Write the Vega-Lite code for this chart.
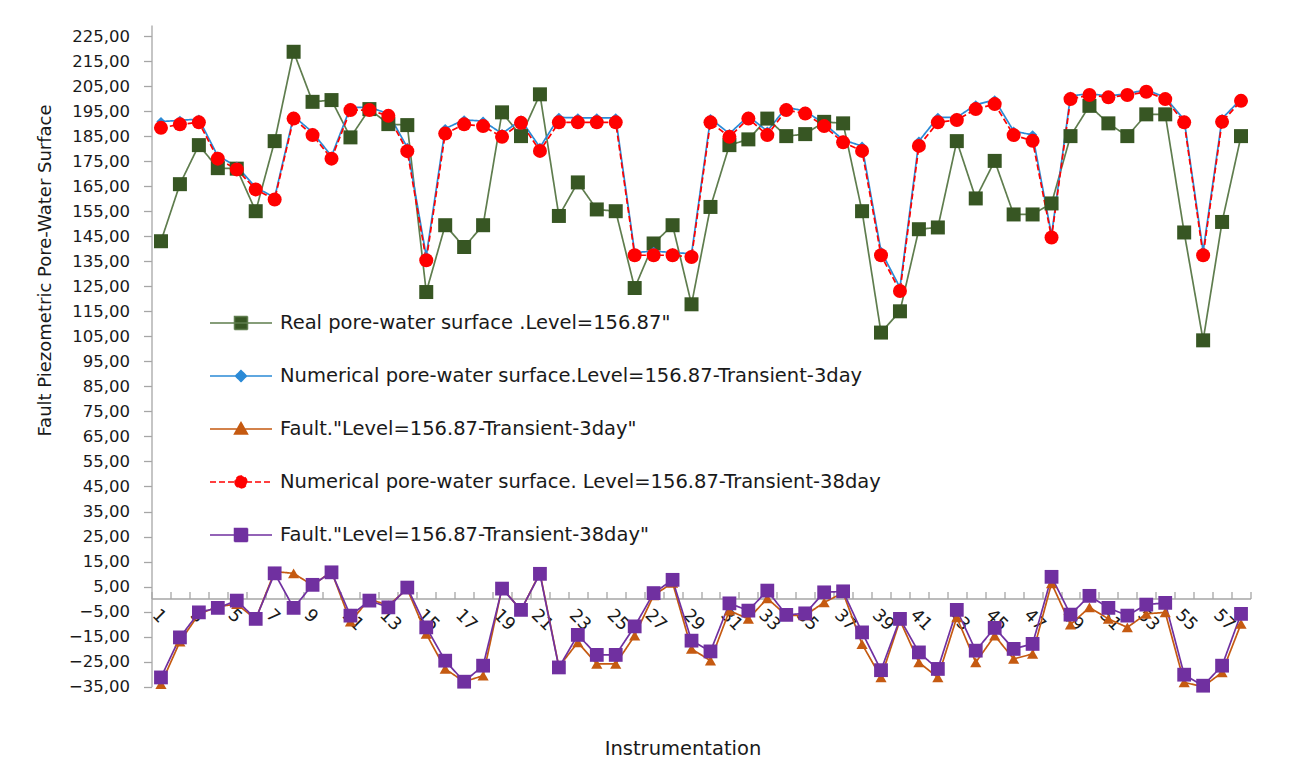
{
  "$schema": "https://vega.github.io/schema/vega-lite/v6.json",
  "width": 1099,
  "height": 661.7,
  "autosize": {"type": "none"},
  "padding": {"left": 151.5, "top": 25, "right": 39.5, "bottom": 85.3},
  "background": "white",
  "config": {"view": {"stroke": null}, "font": "DejaVu Sans", "axis": {"grid": false}},
  "data": {"values": [
    {"i":1,"A":143,"B":190.8,"C":-34,"D":188.3,"E":-31.3},
    {"i":2,"A":165.8,"B":191.3,"C":-17,"D":189.7,"E":-15.3},
    {"i":3,"A":181.4,"B":191.8,"C":-6,"D":190.5,"E":-5.3},
    {"i":4,"A":172.2,"B":177,"C":-3,"D":176,"E":-3.5},
    {"i":5,"A":172,"B":173,"C":-2,"D":171.7,"E":-0.6},
    {"i":6,"A":155,"B":164.5,"C":-8,"D":163.7,"E":-7.9},
    {"i":7,"A":183,"B":160.5,"C":11,"D":159.7,"E":10.3},
    {"i":8,"A":218.7,"B":193,"C":10.3,"D":192,"E":-3.5},
    {"i":9,"A":198.7,"B":186.5,"C":5.5,"D":185.4,"E":5.7},
    {"i":10,"A":199.4,"B":177,"C":11,"D":176,"E":10.7},
    {"i":11,"A":184.5,"B":196.5,"C":-9,"D":195.4,"E":-6.6},
    {"i":12,"A":195.8,"B":196.5,"C":0,"D":195.4,"E":-0.6},
    {"i":13,"A":189.8,"B":194,"C":-2.5,"D":193.1,"E":-3.3},
    {"i":14,"A":189.4,"B":180.5,"C":4,"D":179,"E":4.6},
    {"i":15,"A":122.7,"B":137,"C":-13.9,"D":135.4,"E":-11.3},
    {"i":16,"A":149.4,"B":188,"C":-27.9,"D":186,"E":-24.6},
    {"i":17,"A":140.7,"B":191.5,"C":-33,"D":189.7,"E":-33},
    {"i":18,"A":149.4,"B":191,"C":-30.6,"D":189,"E":-26.6},
    {"i":19,"A":194.5,"B":186,"C":4.5,"D":184.7,"E":4.2},
    {"i":20,"A":185,"B":191.5,"C":-4.5,"D":190.3,"E":-4.3},
    {"i":21,"A":201.7,"B":180.5,"C":10.5,"D":179.1,"E":10.1},
    {"i":22,"A":153.1,"B":192.5,"C":-27,"D":190.5,"E":-27.3},
    {"i":23,"A":166.5,"B":192.3,"C":-17.3,"D":190.5,"E":-14.3},
    {"i":24,"A":155.7,"B":192.3,"C":-25.9,"D":190.5,"E":-22.3},
    {"i":25,"A":155,"B":192.3,"C":-25.9,"D":190.5,"E":-22.3},
    {"i":26,"A":124.3,"B":138.5,"C":-14.6,"D":137.4,"E":-10.9},
    {"i":27,"A":142.1,"B":139,"C":1.5,"D":137.4,"E":2.4},
    {"i":28,"A":149.4,"B":138.5,"C":6.5,"D":137.4,"E":7.7},
    {"i":29,"A":117.8,"B":138,"C":-19.9,"D":136.7,"E":-16.6},
    {"i":30,"A":156.7,"B":192,"C":-24.6,"D":190.5,"E":-20.9},
    {"i":31,"A":181.4,"B":186,"C":-4.6,"D":184.7,"E":-1.7},
    {"i":32,"A":183.7,"B":193,"C":-7.9,"D":192,"E":-4.6},
    {"i":33,"A":192,"B":187,"C":0.3,"D":185.4,"E":3.4},
    {"i":34,"A":185,"B":196.5,"C":-6.5,"D":195.4,"E":-6.3},
    {"i":35,"A":185.8,"B":195,"C":-6.5,"D":194,"E":-5.7},
    {"i":36,"A":190.7,"B":190,"C":-1.3,"D":189,"E":2.7},
    {"i":37,"A":190.1,"B":183.5,"C":2.5,"D":182.5,"E":3.1},
    {"i":38,"A":155,"B":181,"C":-18,"D":179.1,"E":-13.3},
    {"i":39,"A":106.5,"B":139,"C":-31.3,"D":137.4,"E":-28.4},
    {"i":40,"A":115,"B":124.5,"C":-8.5,"D":123.1,"E":-7.9},
    {"i":41,"A":147.8,"B":183,"C":-25.3,"D":181.1,"E":-21.3},
    {"i":42,"A":148.5,"B":192.5,"C":-31.3,"D":190.5,"E":-27.9},
    {"i":43,"A":183,"B":192.5,"C":-7.3,"D":191.4,"E":-4.3},
    {"i":44,"A":160.1,"B":197.5,"C":-25.3,"D":195.8,"E":-20.6},
    {"i":45,"A":175.1,"B":199.5,"C":-14.6,"D":197.8,"E":-11.5},
    {"i":46,"A":153.7,"B":187,"C":-23.9,"D":185.4,"E":-19.9},
    {"i":47,"A":153.7,"B":185.5,"C":-21.9,"D":183.1,"E":-17.9},
    {"i":48,"A":158.1,"B":145.5,"C":6.3,"D":144.5,"E":8.9},
    {"i":49,"A":185,"B":201,"C":-10.2,"D":199.8,"E":-6.2},
    {"i":50,"A":197.1,"B":202,"C":-3.3,"D":201.4,"E":1.3},
    {"i":51,"A":190.1,"B":201,"C":-7.9,"D":200.5,"E":-3.5},
    {"i":52,"A":185,"B":202,"C":-11.3,"D":201.4,"E":-6.6},
    {"i":53,"A":193.7,"B":203.5,"C":-5.9,"D":202.7,"E":-2.2},
    {"i":54,"A":193.7,"B":200.5,"C":-5.3,"D":199.8,"E":-1.5},
    {"i":55,"A":146.5,"B":191.5,"C":-33.3,"D":190.5,"E":-30.2},
    {"i":56,"A":103.4,"B":139,"C":-35,"D":137.4,"E":-34.6},
    {"i":57,"A":150.7,"B":192,"C":-29.3,"D":190.7,"E":-26.6},
    {"i":58,"A":185,"B":199.8,"C":-9.9,"D":199.1,"E":-5.9}
  ]},
  "transform": [{"fold": ["A","B","C","D","E"], "as": ["s","v"]}],
  "encoding": {
    "x": {
      "field": "i", "type": "ordinal", "bandPosition": 0.5,
      "scale": {"type": "band", "paddingInner": 0, "paddingOuter": 0},
      "axis": {
        "title": "Instrumentation", "titleFontSize": 19.5, "titleFontWeight": "normal", "titleColor": "#1a1a1a",
        "titleX": 531, "titleY": 150, "titleBaseline": "middle",
        "offset": -88.2, "domainColor": "#a6a6a6", "domainWidth": 1.3,
        "tickColor": "#a6a6a6", "tickSize": -7, "tickWidth": 1.3, "tickBand": "extent",
        "labelAngle": 45, "labelExpr": "datum.value % 2 == 1 ? datum.label : ''",
        "labelFontSize": 17.5, "labelColor": "#1a1a1a", "labelPadding": 14, "labelOverlap": false
      }
    },
    "y": {
      "field": "v", "type": "quantitative",
      "scale": {"domain": [-35, 229.4], "nice": false, "zero": false},
      "axis": {
        "title": "Fault Piezometric Pore-Water Surface", "titleFontSize": 18, "titleFontWeight": "normal", "titleColor": "#1a1a1a",
        "titleX": -106.5, "titleY": 245, "titleBaseline": "middle", "titleAlign": "center",
        "values": [-35,-25,-15,-5,5,15,25,35,45,55,65,75,85,95,105,115,125,135,145,155,165,175,185,195,205,215,225],
        "labelExpr": "replace(format(datum.value, '.2f'), '.', ',')",
        "labelFontSize": 16.5, "labelColor": "#1a1a1a", "labelPadding": 14,
        "tickSize": 8, "tickColor": "#a6a6a6", "tickWidth": 1.3, "domainColor": "#a6a6a6", "domainWidth": 1.3
      }
    }
  },
  "layer": [
    {
      "mark": {"type": "line", "strokeWidth": 1.7},
      "encoding": {
        "color": {
          "field": "s", "type": "nominal",
          "scale": {"domain": ["A","B","C","D","E"], "range": ["#5f7d4e","#2b8ad6","#c55a11","#ff0000","#7030a0"]},
          "legend": {
            "title": null, "orient": "none", "legendX": 57.5, "legendY": 287, "padding": 0,
            "symbolSize": 400, "symbolStrokeWidth": 1.5, "labelOffset": 49, "rowPadding": 32,
            "labelFontSize": 19.5, "labelColor": "#1a1a1a", "labelLimit": 1000,
            "labelExpr": "['Real  pore-water surface .Level=156.87\"','Numerical   pore-water surface.Level=156.87-Transient-3day','Fault.\"Level=156.87-Transient-3day\"','Numerical  pore-water surface. Level=156.87-Transient-38day','Fault.\"Level=156.87-Transient-38day\"'][indexof(['A','B','C','D','E'], datum.value)]",
            "encode": {
              "symbols": {
                "update": {
                  "shape": {"signal": "['M-1,0H5.2M1.45,-0.65H2.75V0.65H1.45Z','M-1,0H5.2M2.1,-0.55L2.65,0L2.1,0.55L1.55,0Z','M-1,0H5.2M2.1,-0.65L2.75,0.5H1.45Z','M-1,0H5.2M1.5,0A0.6,0.6 0 1,0 2.7,0A0.6,0.6 0 1,0 1.5,0Z','M-1,0H5.2M1.45,-0.65H2.75V0.65H1.45Z'][indexof(['A','B','C','D','E'], datum.value)]"},
                  "fill": {"signal": "['#375623','#2b8ad6','#c55a11','#ff0000','#7030a0'][indexof(['A','B','C','D','E'], datum.value)]"},
                  "strokeDash": {"signal": "datum.value == 'D' ? [5,3] : [1,0]"},
                  "size": {"value": 400},
                  "opacity": {"value": 1}
                }
              }
            }
          }
        },
        "strokeDash": {
          "field": "s", "type": "nominal",
          "scale": {"domain": ["A","B","C","D","E"], "range": [[1,0],[1,0],[1,0],[6,3],[1,0]]},
          "legend": null
        }
      }
    },
    {
      "transform": [{"filter": "datum.s == 'A'"}],
      "mark": {"type": "point", "filled": true, "opacity": 1, "strokeWidth": 0, "shape": "square", "size": 196, "fill": "#375623"}
    },
    {
      "transform": [{"filter": "datum.s == 'B'"}],
      "mark": {"type": "point", "filled": true, "opacity": 1, "strokeWidth": 0, "shape": "diamond", "size": 85, "fill": "#2b8ad6"}
    },
    {
      "transform": [{"filter": "datum.s == 'C'"}],
      "mark": {"type": "point", "filled": true, "opacity": 1, "strokeWidth": 0, "shape": "triangle-up", "size": 125, "fill": "#c55a11"}
    },
    {
      "transform": [{"filter": "datum.s == 'D'"}],
      "mark": {"type": "point", "filled": true, "opacity": 1, "strokeWidth": 0, "shape": "circle", "size": 196, "fill": "#ff0000"}
    },
    {
      "transform": [{"filter": "datum.s == 'E'"}],
      "mark": {"type": "point", "filled": true, "opacity": 1, "strokeWidth": 0, "shape": "square", "size": 190, "fill": "#7030a0"}
    }
  ]
}
